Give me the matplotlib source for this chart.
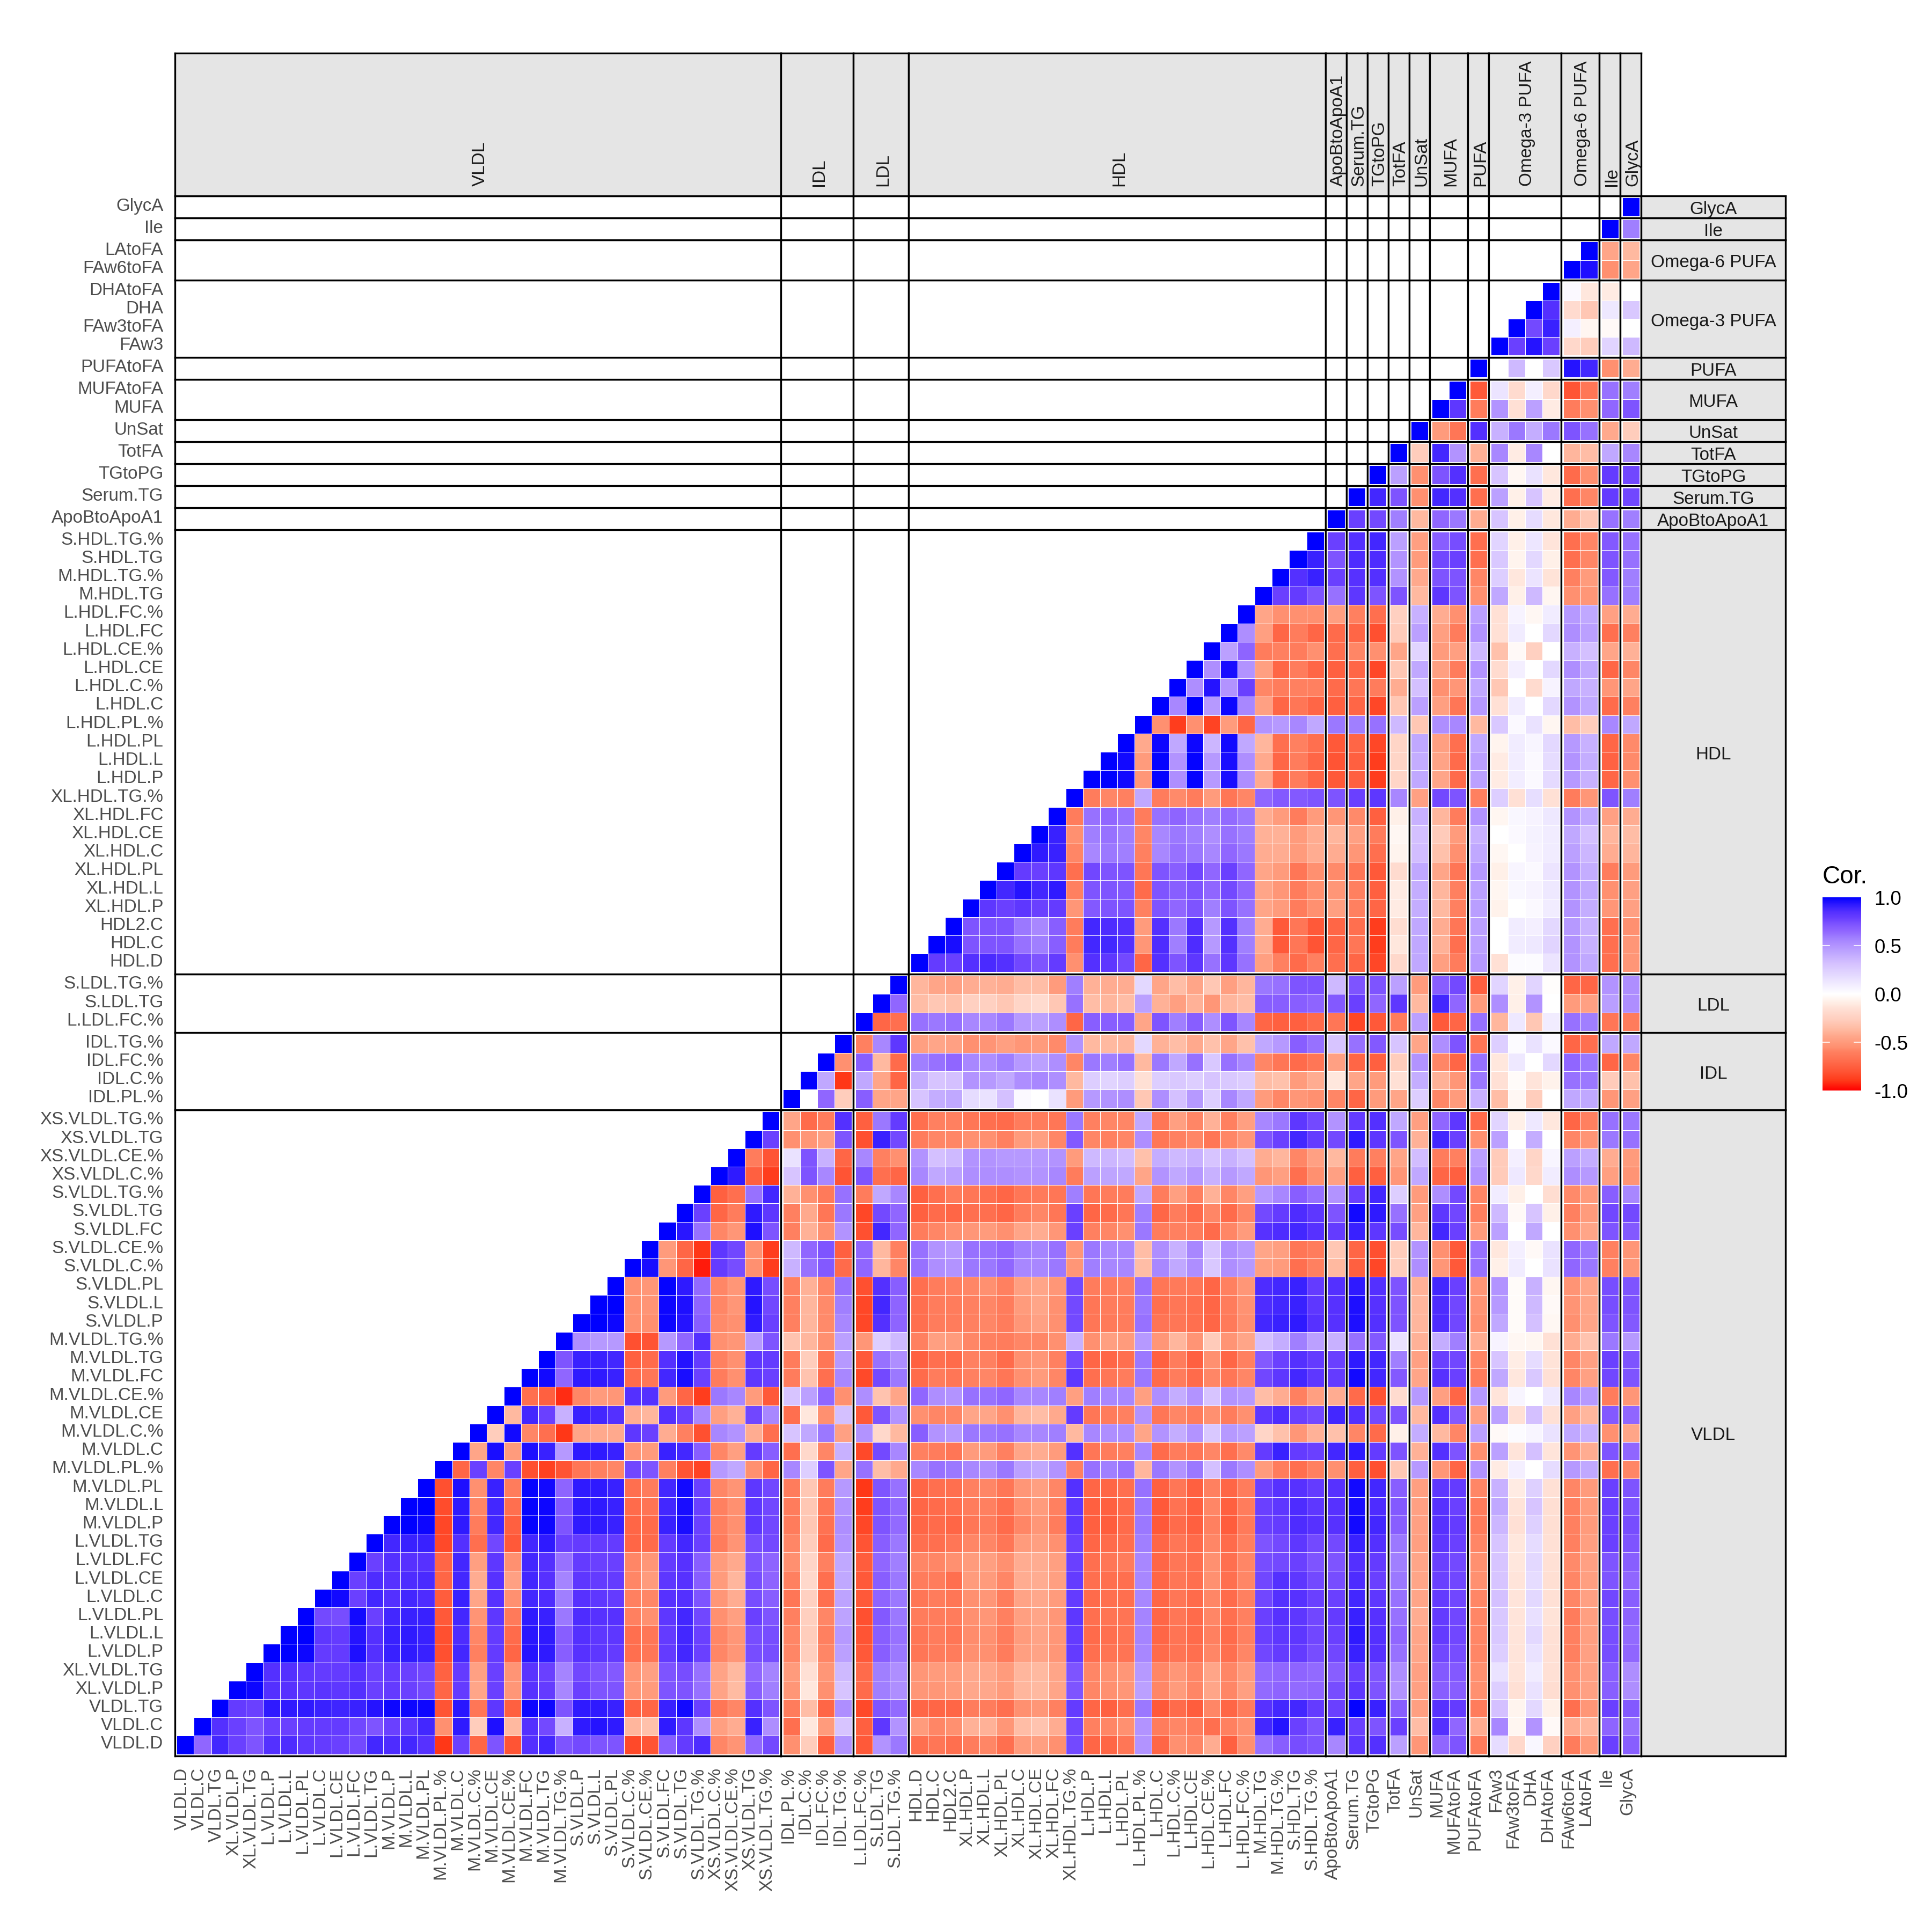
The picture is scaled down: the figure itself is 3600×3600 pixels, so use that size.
import numpy as np
import matplotlib
matplotlib.use('Agg')
import matplotlib.pyplot as plt
from matplotlib.cm import ScalarMappable
from matplotlib.colors import LinearSegmentedColormap, Normalize
from matplotlib.transforms import ScaledTranslation

plt.rcParams['font.family'] = ['Liberation Sans', 'DejaVu Sans']

# variables, bottom-left to top-right, by group
vldl_names = ['VLDL.D', 'VLDL.C', 'VLDL.TG', 'XL.VLDL.P', 'XL.VLDL.TG', 'L.VLDL.P', 'L.VLDL.L', 'L.VLDL.PL',
              'L.VLDL.C', 'L.VLDL.CE', 'L.VLDL.FC', 'L.VLDL.TG', 'M.VLDL.P', 'M.VLDL.L', 'M.VLDL.PL',
              'M.VLDL.PL.%', 'M.VLDL.C', 'M.VLDL.C.%', 'M.VLDL.CE', 'M.VLDL.CE.%', 'M.VLDL.FC', 'M.VLDL.TG',
              'M.VLDL.TG.%', 'S.VLDL.P', 'S.VLDL.L', 'S.VLDL.PL', 'S.VLDL.C.%', 'S.VLDL.CE.%', 'S.VLDL.FC',
              'S.VLDL.TG', 'S.VLDL.TG.%', 'XS.VLDL.C.%', 'XS.VLDL.CE.%', 'XS.VLDL.TG', 'XS.VLDL.TG.%']
idl_names = ['IDL.PL.%', 'IDL.C.%', 'IDL.FC.%', 'IDL.TG.%']
ldl_names = ['L.LDL.FC.%', 'S.LDL.TG', 'S.LDL.TG.%']
hdl_names = ['HDL.D', 'HDL.C', 'HDL2.C', 'XL.HDL.P', 'XL.HDL.L', 'XL.HDL.PL', 'XL.HDL.C', 'XL.HDL.CE', 'XL.HDL.FC',
             'XL.HDL.TG.%', 'L.HDL.P', 'L.HDL.L', 'L.HDL.PL', 'L.HDL.PL.%', 'L.HDL.C', 'L.HDL.C.%', 'L.HDL.CE',
             'L.HDL.CE.%', 'L.HDL.FC', 'L.HDL.FC.%', 'M.HDL.TG', 'M.HDL.TG.%', 'S.HDL.TG', 'S.HDL.TG.%']
other_names = ['ApoBtoApoA1', 'Serum.TG', 'TGtoPG', 'TotFA', 'UnSat', 'MUFA', 'MUFAtoFA', 'PUFAtoFA', 'FAw3',
               'FAw3toFA', 'DHA', 'DHAtoFA', 'FAw6toFA', 'LAtoFA', 'Ile', 'GlycA']

group_labels = ['VLDL', 'IDL', 'LDL', 'HDL', 'ApoBtoApoA1', 'Serum.TG', 'TGtoPG', 'TotFA', 'UnSat', 'MUFA', 'PUFA',
                'Omega-3 PUFA', 'Omega-6 PUFA', 'Ile', 'GlycA']
group_sizes = [35, 4, 3, 24, 1, 1, 1, 1, 1, 2, 1, 4, 2, 1, 1]

# correlations x100. each row starts on the diagonal
vldl_vldl = [
    [100,65,88,78,72,85,86,82,80,78,75,88,86,88,84,-90,78,-72,72,-80,85,88,72,75,72,72,-84,-80,68,80,86,-58,-53,65,75],
    [100,85,78,72,78,78,80,80,80,76,72,78,82,88,-55,92,-27,95,-37,85,75,38,92,94,92,-38,-33,92,82,52,-48,-42,90,52],
    [100,80,78,92,92,92,90,89,90,94,98,98,98,-80,93,-65,82,-75,98,98,72,92,92,90,-75,-72,90,97,78,-65,-58,85,72],
    [100,98,85,84,82,83,82,85,78,80,78,75,-72,80,-45,78,-52,84,80,55,78,72,72,-52,-50,72,72,62,-46,-36,68,58],
    [100,85,85,82,80,80,84,78,80,78,76,-74,80,-47,78,-53,83,78,56,76,72,70,-53,-47,72,74,62,-46,-37,65,56],
    [100,100,98,80,80,95,85,90,92,90,-82,88,-60,80,-72,94,92,68,84,82,80,-68,-65,80,88,78,-58,-52,74,74],
    [100,100,82,80,94,85,90,92,90,-82,86,-58,80,-70,93,92,68,85,82,82,-68,-65,80,88,78,-58,-52,74,74],
    [100,75,74,97,78,88,90,90,-78,88,-53,82,-63,92,90,60,86,84,84,-60,-55,82,88,76,-55,-48,78,72],
    [100,97,78,88,85,88,86,-76,90,-45,84,-55,88,86,58,84,82,80,-60,-58,84,85,72,-52,-42,74,68],
    [100,78,86,84,86,87,-72,88,-42,84,-47,88,84,56,82,80,80,-58,-50,82,84,68,-50,-38,74,66],
    [100,78,85,84,84,-72,88,-48,82,-55,88,85,62,80,78,78,-58,-52,80,84,68,-50,-43,72,66],
    [100,88,90,90,-84,85,-68,76,-78,88,92,78,80,80,80,-72,-70,80,88,78,-62,-53,74,75],
    [100,100,98,-85,92,-62,88,-75,99,98,72,92,92,90,-72,-70,90,96,78,-60,-55,82,76],
    [100,100,-83,92,-58,88,-68,99,98,70,92,92,90,-70,-66,88,96,78,-60,-55,82,76],
    [100,-82,95,-55,90,-62,99,97,66,92,92,90,-68,-62,88,97,78,-58,-53,82,76],
    [100,-72,78,-58,78,-82,-87,-80,-65,-60,-58,76,72,-60,-80,-86,48,42,-55,-72],
    [100,-45,96,-50,95,90,48,92,92,90,-53,-50,90,88,68,-58,-48,80,68],
    [100,-27,97,-58,-68,-90,-45,-43,-43,82,78,-42,-60,-82,55,50,-42,-68],
    [100,-37,88,78,38,90,88,85,-42,-38,85,78,55,-48,-40,76,55],
    [100,-68,-75,-92,-58,-50,-52,85,85,-50,-72,-88,60,55,-50,-78],
    [100,97,65,92,92,90,-70,-65,88,96,78,-62,-55,82,78],
    [100,72,90,90,88,-75,-70,85,94,80,-60,-55,82,80],
    [100,52,48,48,-82,-80,48,65,85,-55,-52,48,72],
    [100,100,98,-55,-55,98,94,68,-57,-55,92,78],
    [100,100,-55,-53,98,95,66,-58,-52,94,76],
    [100,-55,-52,99,92,64,-58,-52,92,74],
    [100,96,-52,-72,-95,80,74,-55,-88],
    [100,-50,-72,-90,82,76,-55,-88],
    [100,93,62,-58,-52,95,72],
    [100,78,-72,-62,92,82],
    [100,-75,-68,62,88],
    [100,92,-75,-88],
    [100,-62,-80],
    [100,78],
    [100],
]
vldl_idl = [
    [-55,-27,-75,50], [-68,-12,-50,30], [-62,-35,-72,52], [-52,-12,-55,30], [-50,-15,-52,35], [-58,-26,-58,45],
    [-58,-27,-60,48], [-60,-26,-58,44], [-65,-25,-68,44], [-60,-20,-68,42], [-55,-22,-60,42], [-58,-27,-70,50],
    [-62,-30,-67,52], [-62,-30,-65,50], [-62,-30,-62,48], [55,25,72,-45], [-68,-20,-58,38], [30,42,60,-47],
    [-68,-12,-55,32], [30,45,65,-55], [-62,-32,-68,55], [-62,-27,-65,48], [-32,-38,-55,45], [-60,-38,-57,55],
    [-60,-38,-57,58], [-60,-40,-58,62], [38,62,70,-70], [35,65,72,-75], [-60,-40,-55,50], [-60,-43,-65,60],
    [-40,-55,-63,62], [30,72,55,-80], [15,72,38,-72], [-55,-52,-48,72], [-45,-70,-62,85],
]
vldl_ldl = [
    [-78,50,60], [-75,82,50], [-84,72,64], [-70,58,52], [-70,58,52], [-78,68,60], [-80,68,62], [-82,70,60],
    [-78,66,60], [-78,68,60], [-76,65,58], [-80,68,60], [-85,72,64], [-88,72,64], [-90,72,62], [62,-35,-43],
    [-84,75,55], [50,-20,-37], [-78,72,50], [52,-32,-45], [-84,75,60], [-78,62,52], [-52,25,35], [-85,85,66],
    [-85,88,66], [-82,85,68], [65,-38,-58], [65,-37,-60], [-82,88,65], [-85,75,65], [-62,42,55], [72,-68,-72],
    [55,-60,-55], [-82,90,75], [-75,60,80],
]
vldl_hdl = [
    [-68,-65,-68,-62,-58,-68,-50,-48,-55,75,-72,-72,-65,50,-72,-55,-58,-42,-75,-55,62,68,74,72],
    [-50,-58,-55,-40,-40,-52,-35,-32,-42,76,-60,-58,-55,50,-62,-58,-62,-68,-60,-55,88,94,78,72],
    [-72,-72,-72,-62,-62,-68,-55,-52,-60,80,-72,-75,-68,60,-78,-70,-76,-58,-72,-62,84,88,88,80],
    [-52,-52,-50,-44,-44,-50,-38,-37,-45,72,-58,-55,-52,45,-58,-50,-58,-45,-58,-48,64,66,64,65],
    [-52,-50,-50,-44,-44,-50,-38,-37,-45,72,-58,-55,-52,48,-58,-52,-58,-45,-58,-50,64,65,66,64],
    [-65,-62,-62,-55,-55,-62,-48,-46,-52,80,-68,-66,-66,55,-70,-66,-68,-58,-68,-58,76,80,80,74],
    [-65,-62,-65,-56,-55,-62,-50,-46,-52,80,-70,-68,-66,56,-72,-66,-70,-60,-70,-60,78,82,82,76],
    [-62,-62,-62,-55,-52,-60,-48,-45,-52,82,-68,-66,-66,56,-72,-65,-70,-58,-68,-60,78,84,82,76],
    [-65,-62,-65,-55,-52,-62,-46,-44,-50,80,-70,-68,-68,55,-72,-65,-70,-58,-70,-60,76,85,84,78],
    [-62,-62,-68,-50,-50,-58,-42,-42,-48,80,-68,-68,-68,55,-72,-65,-68,-55,-68,-58,76,85,82,75],
    [-58,-58,-55,-50,-48,-55,-42,-42,-48,78,-68,-65,-62,55,-72,-65,-68,-55,-68,-58,74,75,78,72],
    [-68,-68,-65,-58,-58,-65,-50,-48,-55,78,-72,-70,-68,58,-72,-65,-70,-58,-70,-60,72,75,82,75],
    [-72,-70,-72,-65,-62,-70,-58,-52,-62,82,-75,-76,-70,60,-78,-70,-75,-60,-76,-63,78,80,86,84],
    [-72,-70,-68,-62,-60,-68,-55,-50,-60,82,-75,-75,-70,60,-78,-67,-75,-58,-75,-62,78,82,86,82],
    [-72,-68,-68,-60,-58,-65,-52,-48,-58,85,-72,-72,-68,62,-75,-65,-75,-60,-72,-62,78,84,84,80],
    [55,62,60,55,52,60,45,42,50,-60,62,58,62,-38,60,50,60,32,60,52,-50,-62,-68,-60],
    [-60,-62,-65,-50,-50,-60,-45,-42,-50,85,-65,-62,-60,55,-70,-62,-65,-58,-68,-57,80,90,80,78],
    [68,50,48,60,60,62,55,55,58,-37,55,52,52,-45,50,40,50,28,48,45,-22,-33,-52,-40],
    [-55,-58,-58,-45,-45,-55,-38,-35,-43,80,-65,-62,-60,50,-65,-58,-62,-55,-62,-55,82,86,78,75],
    [65,52,50,62,62,65,55,55,58,-48,58,55,55,-48,52,40,50,30,50,48,-35,-42,-60,-48],
    [-70,-62,-65,-60,-58,-65,-55,-50,-58,82,-68,-65,-62,60,-70,-62,-70,-58,-65,-58,76,82,88,82],
    [-75,-68,-70,-60,-60,-70,-55,-52,-60,75,-72,-72,-68,60,-75,-62,-75,-55,-72,-60,70,78,85,80],
    [-60,-48,-50,-58,-60,-62,-58,-58,-55,38,-55,-48,-50,48,-52,-38,-53,-28,-53,-45,32,40,58,45],
    [-68,-62,-62,-60,-58,-62,-52,-47,-55,75,-65,-63,-62,62,-66,-65,-68,-72,-63,-55,88,90,92,84],
    [-68,-62,-62,-60,-58,-62,-50,-45,-55,75,-65,-62,-62,60,-68,-65,-68,-72,-62,-54,86,88,90,82],
    [-68,-62,-60,-58,-55,-60,-48,-45,-52,75,-62,-62,-60,62,-65,-63,-65,-72,-60,-52,86,88,90,80],
    [62,52,50,60,60,65,55,55,60,-52,58,55,55,-35,55,42,52,28,52,48,-48,-50,-68,-60],
    [62,50,48,62,62,65,58,56,62,-52,60,55,55,-35,52,38,55,30,52,48,-45,-48,-65,-62],
    [-62,-58,-55,-52,-50,-55,-45,-42,-52,78,-60,-58,-55,60,-62,-60,-62,-70,-58,-50,84,86,88,84],
    [-75,-70,-72,-68,-68,-72,-62,-58,-65,78,-72,-70,-65,58,-72,-62,-70,-58,-70,-58,75,80,86,82],
    [-75,-68,-62,-65,-68,-72,-65,-63,-65,58,-65,-62,-62,42,-62,-48,-60,-40,-58,-48,48,55,68,62],
    [55,42,45,52,52,52,50,50,55,-62,45,43,42,-45,50,42,48,38,48,42,-52,-48,-68,-55],
    [50,32,35,50,50,48,48,48,50,-50,35,36,33,-33,40,35,38,30,38,32,-42,-38,-58,-47],
    [-62,-58,-58,-55,-55,-60,-50,-48,-58,70,-58,-60,-58,52,-65,-60,-58,-65,-58,-52,72,78,88,80],
    [-68,-60,-60,-65,-68,-70,-62,-62,-65,60,-60,-58,-58,42,-65,-48,-58,-40,-60,-48,55,60,82,75],
]
vldl_other = [
    [55,82,85,45,-52,65,72,-62,18,-20,4,-25,-62,-50,78,68],
    [90,78,72,78,-35,85,65,-42,55,-5,50,-3,-42,-38,66,62],
    [78,99,90,68,-48,84,80,-62,32,-6,20,-8,-68,-52,78,70],
    [74,82,72,50,-47,68,68,-55,25,-15,15,-17,-55,-47,68,52],
    [68,78,72,52,-47,70,70,-55,15,-13,10,-15,-55,-47,68,52],
    [76,90,84,62,-45,76,74,-58,25,-13,15,-15,-60,-47,74,65],
    [78,92,85,65,-45,80,76,-58,28,-13,20,-15,-60,-48,74,64],
    [80,90,84,62,-42,80,76,-58,28,-13,16,-14,-62,-48,74,66],
    [78,88,82,62,-45,80,76,-58,32,-13,20,-15,-58,-47,76,68],
    [74,86,78,60,-45,78,76,-55,30,-13,18,-16,-58,-48,72,65],
    [72,85,80,58,-45,78,75,-55,30,-12,20,-15,-57,-47,72,68],
    [75,90,85,60,-48,82,78,-58,30,-12,18,-15,-60,-48,78,72],
    [84,97,88,68,-47,84,80,-62,36,-15,24,-16,-60,-50,78,74],
    [84,96,86,70,-47,84,78,-62,42,-14,30,-16,-60,-50,78,72],
    [84,97,88,68,-48,82,80,-58,38,-10,24,-15,-58,-50,78,72],
    [-55,-75,-82,-30,48,-52,-72,50,-10,8,0,18,48,42,-68,-58],
    [88,92,80,72,-40,85,72,-55,45,-13,32,-13,-53,-42,72,65],
    [-33,-58,-70,-8,40,-37,-58,45,-3,2,5,15,42,38,-55,-45],
    [88,85,75,72,-37,85,70,-47,45,-15,32,-15,-47,-38,70,65],
    [-42,-70,-80,-18,48,-48,-72,48,-13,5,0,12,55,48,-62,-52],
    [80,97,88,70,-45,84,78,-62,42,-12,28,-15,-58,-47,76,72],
    [78,92,88,58,-47,78,76,-58,30,-9,18,-14,-58,-47,78,72],
    [38,62,70,15,-40,40,58,-42,6,-4,-5,-15,-42,-32,60,48],
    [84,95,85,72,-38,86,76,-55,42,-2,32,-4,-55,-45,72,70],
    [84,95,84,72,-38,86,76,-53,48,-2,35,-3,-53,-45,74,72],
    [85,92,85,72,-40,88,78,-52,50,-2,38,-5,-53,-45,74,72],
    [-37,-75,-85,-27,52,-52,-78,62,-8,10,0,15,65,60,-60,-52],
    [-30,-72,-82,-27,50,-55,-78,62,-12,8,-3,15,65,60,-60,-52],
    [80,90,82,74,-38,88,78,-50,45,0,42,0,-55,-45,72,70],
    [72,97,92,62,-47,82,76,-60,35,-3,30,-8,-60,-50,76,75],
    [50,78,88,25,-50,52,75,-58,10,-8,0,-17,-57,-50,68,55],
    [-47,-75,-75,-52,42,-72,-75,50,-28,12,-20,10,52,48,-48,-53],
    [-37,-62,-60,-45,33,-62,-60,45,-28,8,-22,5,45,40,-42,-50],
    [75,92,82,72,-40,88,78,-55,45,0,40,0,-58,-53,60,62],
    [50,80,85,42,-48,65,82,-70,22,-8,12,-12,-72,-60,62,60],
]

idl_idl = [[100,0,65,-27], [100,42,-90], [100,-55], [100]]
idl_ldl = [[68,-45,-45], [42,-45,-72], [68,-37,-70], [-60,55,82]]
idl_hdl = [
    [30,40,42,18,15,32,3,0,15,-50,48,50,52,-30,52,32,48,25,55,42,-50,-58,-52,-55],
    [40,30,32,50,48,42,52,55,52,-37,25,22,25,-15,25,28,25,30,28,26,-35,-33,-50,-42],
    [58,62,65,55,52,58,48,45,52,-58,60,58,62,-37,60,42,62,28,62,55,-58,-65,-70,-65],
    [-48,-45,-47,-55,-53,-48,-52,-50,-57,50,-37,-37,-38,20,-40,-35,-43,-33,-45,-33,42,48,68,62],
]
idl_other = [
    [-58,-72,-50,-45,25,-58,-50,38,-35,-4,-27,0,42,42,-52,-47],
    [-12,-45,-50,-15,40,-40,-52,60,-15,-2,-13,-7,62,60,-28,-33],
    [-47,-72,-75,-27,50,-58,-72,62,-12,12,0,20,65,60,-72,-58],
    [30,62,70,30,-45,52,72,-65,25,2,15,3,-72,-68,42,42],
]

ldl_ldl = [[100,-72,-68], [100,65], [100]]
ldl_hdl = [
    [62,60,62,55,55,60,48,45,52,-72,68,68,68,-45,72,58,68,52,72,55,-72,-75,-75,-70],
    [-35,-30,-33,-25,-25,-30,-22,-18,-30,62,-35,-38,-35,45,-40,-48,-40,-52,-38,-35,68,68,68,66],
    [-38,-45,-47,-42,-40,-42,-35,-35,-50,58,-40,-42,-42,20,-45,-35,-45,-30,-48,-38,60,62,72,72],
]
ldl_other = [
    [-65,-85,-78,-62,45,-78,-72,62,-38,12,-30,10,62,58,-65,-62],
    [70,78,65,82,-37,88,65,-50,52,-8,50,0,-50,-47,46,52],
    [35,72,72,45,-50,68,75,-75,22,-8,22,-1,-72,-72,50,52],
]

hdl_hdl = [
    [100,80,78,85,87,85,76,72,80,-55,85,82,75,-72,85,72,82,62,82,62,-48,-60,-70,-60],
    [100,96,72,72,72,62,58,68,-62,88,88,85,-52,86,58,86,48,85,58,-42,-78,-65,-80],
    [100,72,72,72,60,55,68,-62,88,86,85,-50,85,60,85,48,85,58,-42,-78,-65,-78],
    [100,82,78,82,78,80,-52,70,72,72,-60,72,65,72,58,72,62,-45,-50,-62,-55],
    [100,88,94,88,92,-60,72,72,70,-70,72,68,72,65,75,65,-45,-52,-62,-55],
    [100,80,78,82,-68,76,72,72,-65,72,68,76,65,78,65,-45,-50,-65,-55],
    [100,92,90,-58,55,60,58,-60,55,62,60,55,65,60,-42,-42,-50,-42],
    [100,90,-55,58,62,58,-58,55,60,58,52,62,58,-40,-40,-50,-42],
    [100,-62,62,65,62,-62,62,66,62,58,64,60,-42,-50,-62,-50],
    [100,-62,-58,-60,42,-62,-57,-62,-50,-65,-58,65,70,70,72],
    [100,100,97,-52,99,52,99,48,96,52,-43,-72,-62,-72],
    [100,97,-50,99,50,99,48,96,52,-43,-72,-62,-72],
    [100,-43,98,42,98,36,97,42,-38,-68,-60,-68],
    [100,-55,-88,-55,-86,-50,-72,50,48,55,42],
    [100,55,100,48,98,55,-47,-72,-65,-72],
    [100,52,94,50,78,-58,-62,-60,-60],
    [100,52,96,50,-48,-72,-62,-72],
    [100,45,66,-62,-60,-62,-55],
    [100,52,-48,-72,-62,-72],
    [100,-45,-55,-55,-55],
    [100,78,80,72],
    [100,85,90],
    [100,90],
    [100],
]
hdl_other = [
    [-68,-72,-85,-20,42,-48,-62,48,-15,2,2,14,50,42,-68,-52],
    [-72,-65,-88,-12,42,-40,-68,45,0,10,12,22,50,38,-68,-52],
    [-72,-68,-88,-17,42,-42,-65,45,0,10,8,20,48,38,-68,-55],
    [-48,-60,-72,-10,40,-37,-60,46,-7,0,3,10,50,40,-52,-47],
    [-52,-60,-75,-10,40,-38,-60,45,-5,4,6,12,50,42,-55,-47],
    [-57,-65,-78,-18,42,-45,-65,48,-8,5,3,14,50,40,-62,-50],
    [-42,-52,-68,-6,33,-33,-55,42,-4,0,6,10,45,36,-42,-38],
    [-38,-47,-62,-4,32,-28,-50,38,0,3,7,10,42,32,-38,-35],
    [-52,-57,-75,-8,38,-38,-62,50,-5,4,6,12,50,42,-47,-42],
    [72,78,82,55,-47,75,72,-60,25,-15,17,-15,-62,-52,72,58],
    [-78,-75,-88,-22,42,-45,-70,45,-10,9,3,19,48,38,-72,-55],
    [-80,-75,-88,-22,40,-46,-70,45,-10,9,3,18,50,40,-74,-57],
    [-78,-72,-85,-22,42,-48,-68,42,-6,10,5,20,48,38,-72,-57],
    [60,58,62,35,-30,52,55,-37,28,3,15,-5,-35,-27,55,42],
    [-75,-72,-85,-30,45,-48,-65,48,-15,10,0,20,50,42,-70,-60],
    [-70,-65,-62,-42,32,-55,-52,42,-30,0,-18,6,42,38,-52,-45],
    [-75,-72,-85,-30,42,-48,-62,50,-18,8,0,20,52,42,-72,-58],
    [-68,-58,-55,-45,22,-50,-48,35,-33,-3,-25,0,38,32,-45,-40],
    [-70,-72,-82,-28,45,-48,-62,50,-15,10,0,20,52,45,-68,-60],
    [-48,-60,-68,-25,38,-42,-55,45,-15,6,-4,10,48,42,-47,-42],
    [62,82,72,72,-37,82,72,-55,42,-8,35,-5,-55,-52,62,58],
    [78,84,85,50,-43,72,72,-58,25,-12,14,-14,-60,-50,70,58],
    [72,86,86,50,-50,76,78,-68,28,-6,20,-8,-68,-58,72,62],
    [78,85,88,45,-48,68,74,-68,22,-8,13,-13,-68,-58,70,62],
]

other_other = [
    [100,78,75,58,-37,65,60,-42,30,-8,18,-12,-42,-30,62,58],
    [100,88,72,-55,88,85,-68,45,-8,30,-10,-68,-58,80,76],
    [100,45,-55,72,85,-68,30,-4,15,-12,-70,-55,80,76],
    [100,-27,88,50,-40,55,-10,55,0,-38,-35,42,55],
    [100,-50,-65,85,38,60,40,60,72,62,-43,-27],
    [100,82,-62,50,-15,45,-10,-62,-55,65,72],
    [100,-78,14,-18,8,-20,-80,-65,62,58],
    [100,0,35,0,28,94,88,-55,-42],
    [100,78,94,78,-20,-27,22,35],
    [100,75,90,8,-5,-3,0],
    [100,85,-18,-30,12,28],
    [100,3,-12,-10,0],
    [100,95,-55,-45],
    [100,-45,-37],
    [100,58],
    [100],
]

# colour ramp of the scale (red - white - blue)
ramp = [(-1.0, '#FF0000'), (-0.9, '#FF3818'), (-0.82, '#FF5030'), (-0.75, '#FF6040'), (-0.68, '#FF7050'),
        (-0.6, '#FF8060'), (-0.55, '#FF9070'), (-0.45, '#FFA588'), (-0.37, '#FFB9A0'), (-0.27, '#FFCDBD'),
        (-0.15, '#FFE0D5'), (-0.08, '#FFF0E8'), (0.0, '#FFFFFF'), (0.18, '#E6DCFF'), (0.32, '#D4C0FF'),
        (0.42, '#C0A8FF'), (0.52, '#AF8FFF'), (0.58, '#A07FFF'), (0.65, '#9066FF'), (0.72, '#7F55FF'),
        (0.78, '#6A40FF'), (0.85, '#5530FF'), (0.9, '#3A22FF'), (0.95, '#2010FF'), (1.0, '#0000FF')]
cmap = LinearSegmentedColormap.from_list('cor', [((v + 1) / 2, c) for v, c in ramp], N=512)
norm = Normalize(-1, 1)

names = vldl_names + idl_names + ldl_names + hdl_names + other_names
n_vars = len(names)

rows = []
for i in range(35):
    rows.append(vldl_vldl[i] + vldl_idl[i] + vldl_ldl[i] + vldl_hdl[i] + vldl_other[i])
for i in range(4):
    rows.append(idl_idl[i] + idl_ldl[i] + idl_hdl[i] + idl_other[i])
for i in range(3):
    rows.append(ldl_ldl[i] + ldl_hdl[i] + ldl_other[i])
for i in range(24):
    rows.append(hdl_hdl[i] + hdl_other[i])
for i in range(16):
    rows.append(other_other[i])

bad = [(i, len(r)) for i, r in enumerate(rows) if len(r) != n_vars - i]
if bad:
    raise ValueError('wrong row lengths: %s' % bad)

cor = np.full((n_vars, n_vars), np.nan)
for i, r in enumerate(rows):
    cor[i, i:] = np.array(r) / 100

# layout in pixels of the 3600 x 3600 figure
W = H = 3600.0
left, top, right, bottom = 326.0, 365.0, 3058.0, 3272.0
strip_top, strip_right = 99.0, 3327.0
inset = 3.4
n_groups = len(group_sizes)
cell_w = (right - left - 2 * inset * n_groups) / n_vars
cell_h = (bottom - top - 2 * inset * n_groups) / n_vars
panel_lw = 0.8
label_size = 7.95
grey = '#E5E5E5'


def add_ax(x0, y0, x1, y1):
    # pixel box, y measured from the top
    return fig.add_axes([x0 / W, 1 - y1 / H, (x1 - x0) / W, (y1 - y0) / H])


def frame(ax):
    ax.set_xticks([])
    ax.set_yticks([])
    for s in ax.spines.values():
        s.set_linewidth(panel_lw)
        s.set_color('black')


fig = plt.figure(figsize=(12, 12), dpi=300, facecolor='white')

starts = np.cumsum([0] + group_sizes)
x_edges = left + np.cumsum([0] + [s * cell_w + 2 * inset for s in group_sizes])
y_edges = bottom - np.cumsum([0] + [s * cell_h + 2 * inset for s in group_sizes])

for r in range(n_groups):
    for c in range(n_groups):
        ax = add_ax(x_edges[c], y_edges[r + 1], x_edges[c + 1], y_edges[r])
        sub = cor[starts[r]:starts[r + 1], starts[c]:starts[c + 1]]
        nr, nc = sub.shape
        if not np.all(np.isnan(sub)):
            ax.pcolormesh(np.arange(nc + 1), np.arange(nr + 1), np.ma.masked_invalid(sub), cmap=cmap, norm=norm,
                          edgecolors='white', linewidth=0.12)
        ax.set_xlim(-inset / cell_w, nc + inset / cell_w)
        ax.set_ylim(-inset / cell_h, nr + inset / cell_h)
        frame(ax)
        if r == 0:
            ax.set_xticks(np.arange(nc) + 0.5)
            ax.set_xticklabels(names[starts[c]:starts[c + 1]], rotation=90, ha='center', va='top',
                               fontsize=label_size, color='#4D4D4D')
            ax.tick_params(axis='x', length=0, pad=5.2)
            for lab in ax.get_xticklabels():
                lab.set_transform(lab.get_transform() + ScaledTranslation(-6 / 300, 0, fig.dpi_scale_trans))
        if c == 0:
            ax.set_yticks(np.arange(nr) + 0.5)
            ax.set_yticklabels(names[starts[r]:starts[r + 1]], fontsize=label_size, color='#4D4D4D')
            ax.tick_params(axis='y', length=0, pad=5.2)
            for lab in ax.get_yticklabels():
                lab.set_transform(lab.get_transform() + ScaledTranslation(0, 5 / 300, fig.dpi_scale_trans))

# top strips
for c in range(n_groups):
    ax = add_ax(x_edges[c], strip_top, x_edges[c + 1], top)
    ax.set_facecolor(grey)
    frame(ax)
    t = ax.text(0.5, (top - 347) / (top - strip_top), group_labels[c], transform=ax.transAxes, rotation=90,
                ha='center', va='bottom', fontsize=label_size, color='#1A1A1A')
    t.set_transform(t.get_transform() + ScaledTranslation(4 / 300, 0, fig.dpi_scale_trans))

# right strips
for r in range(n_groups):
    ax = add_ax(right, y_edges[r + 1], strip_right, y_edges[r])
    ax.set_facecolor(grey)
    frame(ax)
    t = ax.text(0.5, 0.5, group_labels[r], transform=ax.transAxes, ha='center', va='center',
                fontsize=label_size, color='#1A1A1A')
    t.set_transform(t.get_transform() + ScaledTranslation(0, -5 / 300, fig.dpi_scale_trans))

# legend
cax = add_ax(3396, 1672, 3468, 2032)
cb = fig.colorbar(ScalarMappable(norm=norm, cmap=cmap), cax=cax)
cb.outline.set_visible(False)
cb.set_ticks([-1, -0.5, 0, 0.5, 1])
cb.set_ticklabels(['-1.0', '-0.5', '0.0', '0.5', '1.0'])
cax.tick_params(length=0, pad=5.8, labelsize=8.8, labelcolor='black')
for v in [-0.5, 0, 0.5]:
    cax.plot([0, 0.18], [v, v], color='white', lw=0.4)
    cax.plot([0.82, 1], [v, v], color='white', lw=0.4)
fig.text(3396 / W, 1 - 1646 / H, 'Cor.', fontsize=11, color='black', ha='left', va='baseline')

fig.savefig('out.png', dpi=300, facecolor='white')
